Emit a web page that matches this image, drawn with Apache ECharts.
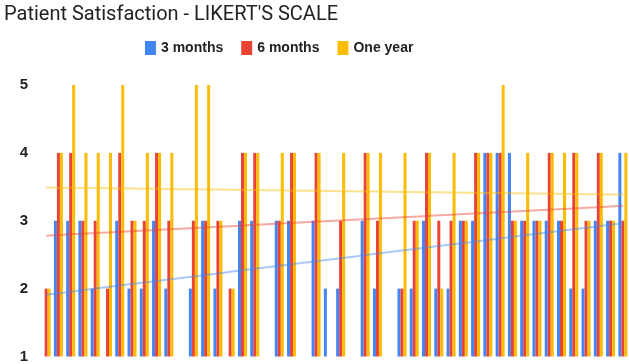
<!DOCTYPE html>
<html>
<head>
<meta charset="utf-8">
<script src="https://cdn.jsdelivr.net/npm/echarts@6/dist/echarts.min.js"></script>
<style>
  html, body { margin: 0; padding: 0; background: #fff; }
  #main { width: 629px; height: 364px; }
</style>
</head>
<body>
<div id="main"></div>
<script>
var patients = [];
for (var i = 1; i <= 48; i++) patients.push('P' + i);

var threeMonths = [1,3,3,3,2,1,3,2,2,3,2,1,2,3,2,1,3,3,1,3,3,1,3,2,2,1,3,2,1,2,2,3,2,2,3,3,4,4,4,3,3,3,3,2,2,3,3,4];
var sixMonths   = [2,4,4,3,3,2,4,3,3,4,3,1,3,3,3,2,4,4,1,3,4,1,4,1,3,1,4,3,1,2,3,4,3,3,3,4,4,4,3,3,3,4,3,4,3,4,3,3];
var oneYear     = [2,4,5,4,4,4,5,3,4,4,4,1,5,5,3,2,4,4,1,4,4,1,4,1,4,1,4,4,1,4,3,4,2,4,3,4,4,5,3,4,3,4,4,4,3,4,3,4];

var yTicks = [1, 2, 3, 4, 5];

// linear trend line (least squares) over the patient index
function trend(vals) {
  var n = vals.length, sx = 0, sy = 0, sxy = 0, sxx = 0;
  for (var i = 0; i < n; i++) {
    sx += i; sy += vals[i]; sxy += i * vals[i]; sxx += i * i;
  }
  var b = (n * sxy - sx * sy) / (n * sxx - sx * sx);
  var a = (sy - b * sx) / n;
  return vals.map(function (v, i) { return a + b * i; });
}

var myChart = echarts.init(document.getElementById('main'));

function barSeries(name, data, color) {
  return {
    name: name,
    type: 'bar',
    data: data,
    barWidth: 3,
    barGap: '0%',
    itemStyle: { color: color },
    silent: true
  };
}

function trendSeries(data, color) {
  return {
    type: 'line',
    data: trend(data),
    symbol: 'none',
    lineStyle: { color: color, width: 2, opacity: 0.45 },
    silent: true,
    z: 5
  };
}

var option = {
  animation: false,
  title: {
    text: "Patient Satisfaction - LIKERT'S SCALE",
    left: -1,
    top: 0,
    textStyle: { fontFamily: 'Roboto, Arial', fontSize: 20, fontWeight: 'normal', color: '#222' }
  },
  legend: {
    data: ['3 months', '6 months', 'One year'],
    top: 36,
    left: 140,
    itemWidth: 11,
    itemHeight: 14,
    itemGap: 18,
    icon: 'rect',
    textStyle: { fontFamily: 'Liberation Sans, Arial', fontSize: 14, fontWeight: 'bold', color: '#222' }
  },
  grid: { left: 40, right: 0, top: 85, bottom: 6 },
  xAxis: {
    type: 'category',
    data: patients,
    axisLine: { show: false },
    axisTick: { show: false },
    axisLabel: { show: false }
  },
  yAxis: {
    type: 'value',
    min: yTicks[0],
    max: yTicks[yTicks.length - 1],
    interval: 1,
    splitLine: { show: false },
    axisLabel: {
      fontFamily: 'Liberation Sans, Arial',
      fontSize: 15,
      fontWeight: 'bold',
      color: '#222',
      margin: 12
    }
  },
  series: [
    barSeries('3 months', threeMonths, '#4285F4'),
    barSeries('6 months', sixMonths, '#EA4335'),
    barSeries('One year', oneYear, '#FBBC04'),
    trendSeries(threeMonths, '#4285F4'),
    trendSeries(sixMonths, '#EA4335'),
    trendSeries(oneYear, '#FBBC04')
  ]
};

myChart.setOption(option);
</script>
</body>
</html>
